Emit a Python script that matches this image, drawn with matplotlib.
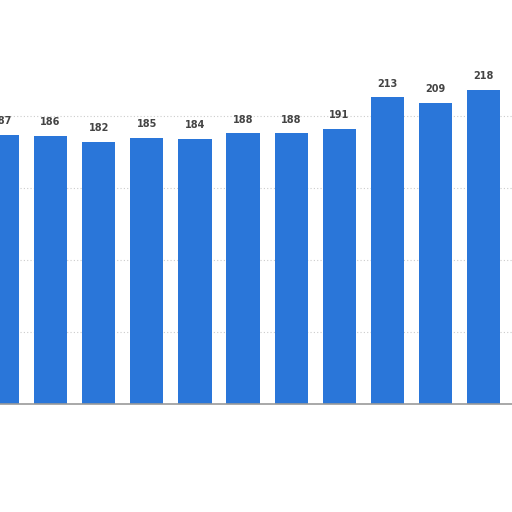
import matplotlib
matplotlib.use("Agg")
import matplotlib.pyplot as plt
import numpy as np

categories = ["2008", "2009", "2010", "2011", "2012", "2013", "2014", "2015", "2016", "2017", "2018"]
values = [187, 186, 182, 185, 184, 188, 188, 191, 213, 209, 218]

fig = plt.figure(figsize=(5.12, 5.12), dpi=100)
ax = fig.add_axes([0, 108 / 512, 1, 404 / 512])
x = np.arange(len(values))
ax.bar(x, values, width=0.69, color="#2a76d9", zorder=2)
for xi, v in zip(x, values):
    ax.text(xi, v + 6, str(v), ha="center", va="bottom", fontsize=7, fontweight="bold", color="#444444")

ax.set_xlim(-0.052, 10.59)
ax.set_ylim(0, 280.5)
ax.set_yticks([50, 100, 150, 200])
ax.yaxis.grid(True, linestyle=(0, (1, 2)), color="#cccccc", linewidth=0.8, zorder=0)
ax.tick_params(left=False, bottom=False, labelleft=False, labelbottom=False)
for s in ["top", "right", "left"]:
    ax.spines[s].set_visible(False)
ax.spines["bottom"].set_color("#999999")
ax.spines["bottom"].set_linewidth(1.2)
ax.set_xticks(x)
ax.set_xticklabels(categories)
fig.savefig("out.png", dpi=100)
